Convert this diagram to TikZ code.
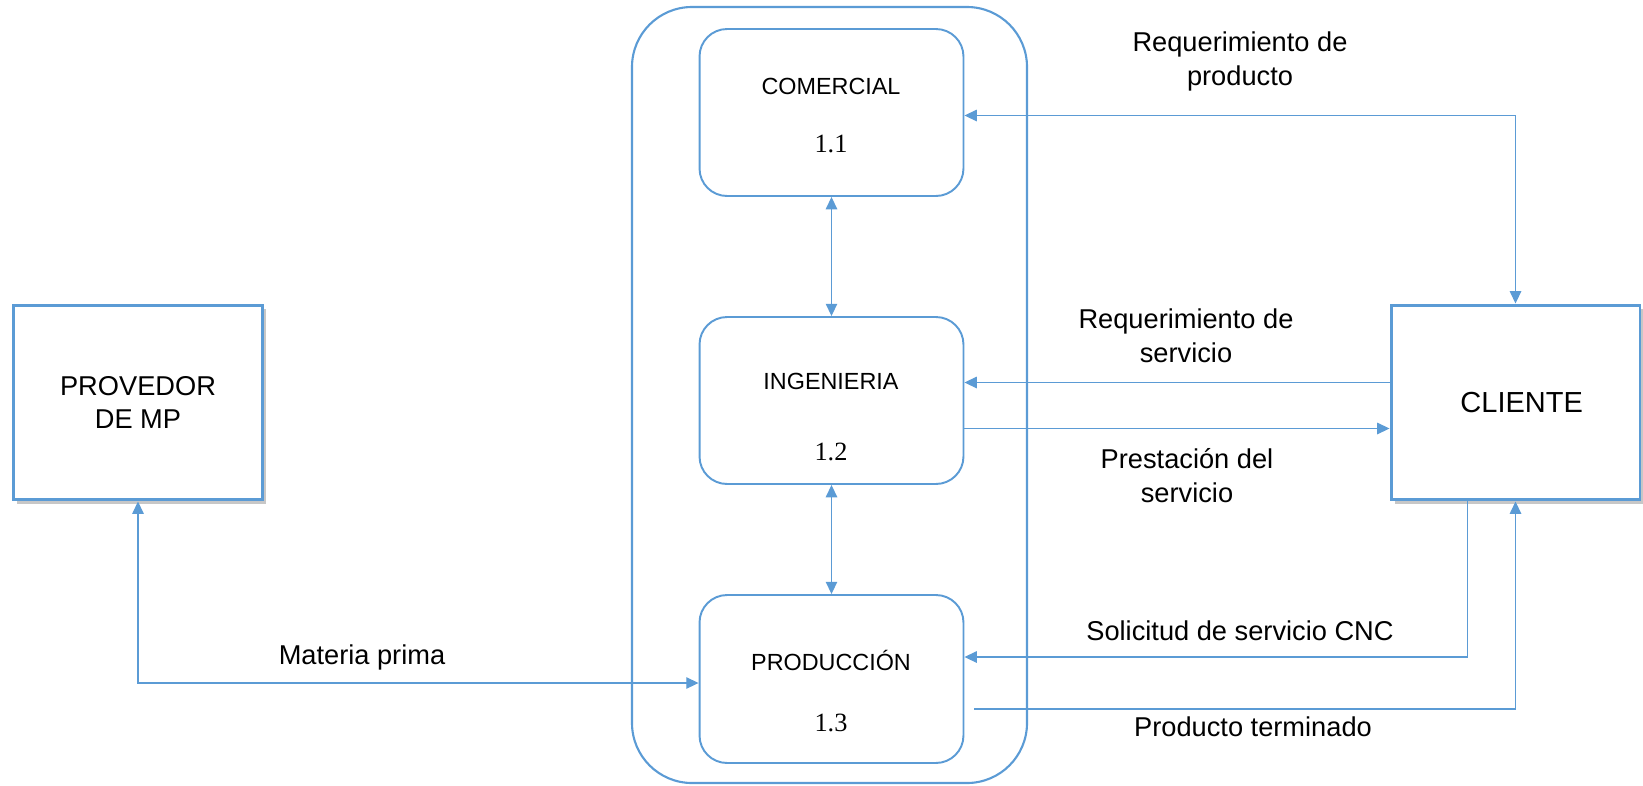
\documentclass[tikz,border=0pt]{standalone}
\usepackage{fontspec}
\setmainfont{Liberation Sans}
\newfontfamily\numfont{Liberation Serif}
\usetikzlibrary{arrows.meta, calc, shadows}
\definecolor{azul}{RGB}{91,155,213}

\begin{document}
\begin{tikzpicture}[x=0.02cm, y=-0.02cm,
  caja/.style={draw=azul, line width=1.7pt, fill=white, align=center,
    font=\fontsize{15.5}{18.8}\selectfont,
    minimum width=4.98cm, minimum height=3.9cm,
    drop shadow={shadow xshift=2pt, shadow yshift=-2pt, fill=black!22, opacity=1}},
  proceso/.style={draw=azul, line width=1.1pt, rounded corners=0.55cm,
    minimum width=5.28cm, minimum height=3.34cm},
  titulo/.style={font=\fontsize{13.3}{16}\selectfont},
  numero/.style={font=\numfont\fontsize{15}{18}\selectfont},
  etiqueta/.style={font=\fontsize{15.5}{19.4}\selectfont, align=center},
  flujo/.style={draw=azul, line width=0.7pt, -{Triangle[length=7pt, width=6.5pt]}},
  dflujo/.style={flujo, {Triangle[length=7pt, width=6.5pt]}-{Triangle[length=7pt, width=6.5pt]}}
]
\useasboundingbox (0,0) rectangle (1643,785);

%External entities
\node[caja] (prov) at (138,402.5) {PROVEDOR\\DE MP};
\node[caja, font=\fontsize{16.5}{20}\selectfont] (cliente) at (1515.5,402.5) {\hspace*{7pt}CLIENTE};

%System
\draw[draw=azul, line width=1.2pt, rounded corners=1.2cm] (632,7) rectangle (1027,783);

%Processes
\node[proceso] (comercial) at (831.5,112.5) {};
\node[titulo] (t-com) at (831,86) {COMERCIAL};
\node[numero] (n-com) at (831,144) {1.1};

\node[proceso] (ingenieria) at (831.5,400.5) {};
\node[titulo] (t-ing) at (831,381) {INGENIERIA};
\node[numero] (n-ing) at (831,452) {1.2};

\node[proceso, minimum height=3.36cm] (produccion) at (831.5,679) {};
\node[titulo] (t-pro) at (831,660) {PRODUCCIÓN};
\node[numero] (n-pro) at (831,723) {1.3};

%Flows
\draw[dflujo] (comercial) -- (ingenieria);
\draw[dflujo] (ingenieria) -- (produccion);
\draw[dflujo] ($(comercial.east)+(0,3)$) -| (cliente.north);
\draw[flujo] ($(cliente.west)+(0,-20)$) coordinate (rs) -- (rs -| ingenieria.east);
\draw[flujo] ($(ingenieria.east)+(0,28)$) coordinate (ps) -- (ps -| cliente.west);
\draw[flujo] ($(cliente.south)+(-48,0)$) |- ($(produccion.east)+(0,-22)$);
\draw[flujo] ($(produccion.east)+(10,30)$) -| (cliente.south);
\draw[dflujo] (prov.south) |- ($(produccion.west)+(0,4)$);

%Labels
\node[etiqueta] (l-rp) at (1240,61) {Requerimiento de\\producto};
\node[etiqueta] (l-rs) at (1186,335.5) {Requerimiento de\\servicio};
\node[etiqueta] (l-ps) at (1187,475.5) {Prestación del\\servicio};
\node[etiqueta] (l-sc) at (1240,631) {Solicitud de servicio CNC};
\node[etiqueta] (l-pt) at (1253,727) {Producto terminado};
\node[etiqueta] (l-mp) at (362,657) {Materia prima};
\end{tikzpicture}
\end{document}
